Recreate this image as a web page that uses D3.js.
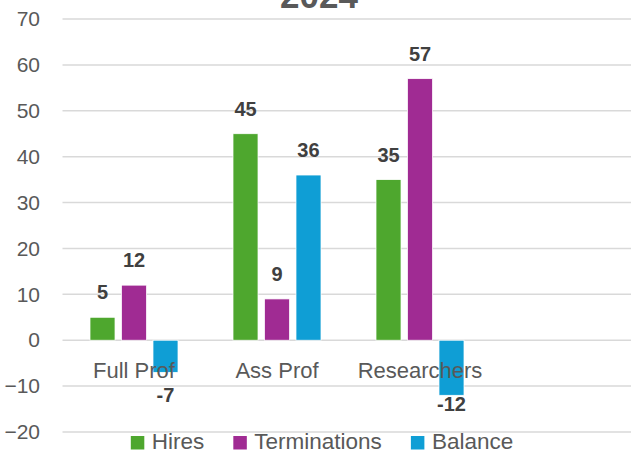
<!DOCTYPE html>
<html>
<head>
<meta charset="utf-8">
<script src="https://cdn.jsdelivr.net/npm/d3@7"></script>
<style>
  body { margin: 0; background: #fff; }
  svg { display: block; font-family: "Liberation Sans", Arial, sans-serif; }
</style>
</head>
<body>
<div id="main"></div>
<script>
// Datos del gráfico
var categorias = ["Full Prof", "Ass Prof", "Researchers", ""];
var series = ["Hires", "Terminations", "Balance"];
var hires = [5, 45, 35];
var terminations = [12, 9, 57];
var balance = [-7, 36, -12];
var yTicks = [-20, -10, 0, 10, 20, 30, 40, 50, 60, 70];
var colores = ["#4EA72E", "#A02B93", "#0F9ED5"];
var titulo = "2024";

var width = 631, height = 452;
var margin = { left: 62.5, right: -3.5, top: 19, bottom: 20 };

var svg = d3.select("#main").append("svg")
  .attr("width", width)
  .attr("height", height);

// Escalas
var x0 = d3.scaleBand()
  .domain(categorias)
  .range([margin.left, width - margin.right])
  .padding(0);

var bw = x0.bandwidth();
var x1 = d3.scaleBand()
  .domain(series)
  .range([bw / 2 - 44, bw / 2 + 44])
  .paddingInner(0.206)
  .paddingOuter(0);

var y = d3.scaleLinear()
  .domain([-20, 70])
  .range([height - margin.bottom, margin.top]);

// Líneas de la cuadrícula
svg.append("g").selectAll("line")
  .data(yTicks)
  .join("line")
  .attr("x1", margin.left)
  .attr("x2", width - margin.right)
  .attr("y1", function(d) { return y(d); })
  .attr("y2", function(d) { return y(d); })
  .attr("stroke", "#d9d9d9")
  .attr("stroke-width", 1.5);

// Eje Y
var yAxis = d3.axisLeft(y).tickValues(yTicks).tickSize(0).tickPadding(0);
var gy = svg.append("g")
  .attr("transform", "translate(40,0)")
  .call(yAxis);
gy.select(".domain").remove();
gy.selectAll("text")
  .attr("fill", "#595959")
  .attr("font-size", 21)
  .attr("font-family", "Liberation Sans, Arial, sans-serif");

// Construir la tabla de barras
var valores = [hires, terminations, balance];
var filas = [];
series.forEach(function(s, i) {
  valores[i].forEach(function(v, j) {
    filas.push({ serie: s, cat: categorias[j], valor: v, color: colores[i] });
  });
});

// Barras
svg.append("g").selectAll("rect")
  .data(filas)
  .join("rect")
  .attr("x", function(d) { return x0(d.cat) + x1(d.serie); })
  .attr("width", x1.bandwidth())
  .attr("y", function(d) { return y(Math.max(0, d.valor)); })
  .attr("height", function(d) { return Math.abs(y(d.valor) - y(0)); })
  .attr("fill", function(d) { return d.color; })
  .attr("stroke", "#fff")
  .attr("stroke-width", 0.75);

// Etiquetas de categorías (encima de las barras)
svg.append("g").selectAll("text")
  .data(categorias)
  .join("text")
  .attr("x", function(d) { return x0(d) + bw / 2; })
  .attr("y", 378)
  .attr("text-anchor", "middle")
  .attr("fill", "#595959")
  .attr("font-size", 22)
  .text(function(d) { return d; });

// Etiquetas de datos
svg.append("g").selectAll("text")
  .data(filas)
  .join("text")
  .attr("x", function(d) { return x0(d.cat) + x1(d.serie) + x1.bandwidth() / 2; })
  .attr("y", function(d) {
    if (d.valor >= 0) return y(d.valor) - 18;
    // evitar la etiqueta de la categoría
    return Math.max(y(d.valor) + 16, 402);
  })
  .attr("text-anchor", "middle")
  .attr("fill", "#404040")
  .attr("font-size", 20)
  .attr("font-weight", "bold")
  .text(function(d) { return d.valor; });

// Título
svg.append("text")
  .attr("x", 319)
  .attr("y", 8)
  .attr("text-anchor", "middle")
  .attr("fill", "#595959")
  .attr("font-size", 35)
  .attr("font-weight", "bold")
  .text(titulo);

// Leyenda
var leyenda = svg.append("g");
var lx = 0;
series.forEach(function(s, i) {
  var g = leyenda.append("g").attr("transform", "translate(" + lx + ",0)");
  g.append("rect")
    .attr("x", 0).attr("y", 436)
    .attr("width", 13.5).attr("height", 13.5)
    .attr("fill", colores[i]);
  var t = g.append("text")
    .attr("x", 21).attr("y", 449)
    .attr("fill", "#595959")
    .attr("font-size", 22.5)
    .text(s);
  lx += 21 + t.node().getComputedTextLength() + 29;
});
var lw = lx - 29;
leyenda.attr("transform", "translate(" + (322 - lw / 2) + ",0)");
</script>
</body>
</html>
